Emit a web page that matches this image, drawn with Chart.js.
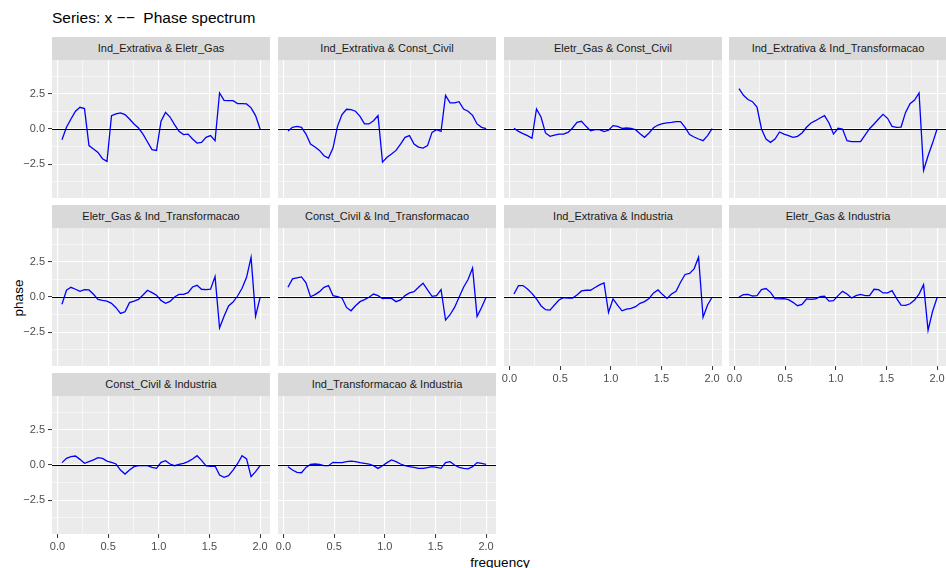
<!DOCTYPE html>
<html>
<head>
<meta charset="utf-8">
<style>
  body { margin: 0; width: 946px; height: 568px; overflow: hidden; background: #fff; position: relative;
         font-family: "Liberation Sans", Arial, sans-serif; }
  .strip { position: absolute; background: #D9D9D9; color: #1A1A1A; font-size: 11px;
           text-align: center; line-height: 23px; height: 23px; white-space: nowrap; }
  canvas { position: absolute; }
  #title { position: absolute; left: 52px; top: 9px; font-size: 15.5px; color: #000; white-space: pre; }
  #ylab { position: absolute; left: 18px; top: 298px; font-size: 13.5px; color: #000;
          transform: translate(-50%, -50%) rotate(-90deg); }
  #xlab { position: absolute; left: 500px; top: 555px; font-size: 13.5px; color: #000;
          transform: translateX(-50%); }
</style>
</head>
<body>
<div id="title">Series: x &#8722;&#8722;  Phase spectrum</div>
<div id="ylab">phase</div>
<div id="xlab">frequency</div>
<script src="https://cdn.jsdelivr.net/npm/chart.js"></script>
<script>
// frequency grid of the spectrum (45 ordinates, quarterly series)
const frequency = [0.0444, 0.0889, 0.1333, 0.1778, 0.2222, 0.2667, 0.3111, 0.3556, 0.4, 0.4444,
  0.4889, 0.5333, 0.5778, 0.6222, 0.6667, 0.7111, 0.7556, 0.8, 0.8444, 0.8889,
  0.9333, 0.9778, 1.0222, 1.0667, 1.1111, 1.1556, 1.2, 1.2444, 1.2889, 1.3333,
  1.3778, 1.4222, 1.4667, 1.5111, 1.5556, 1.6, 1.6444, 1.6889, 1.7333, 1.7778,
  1.8222, 1.8667, 1.9111, 1.9556, 2.0];

const panelNames = [
  'Ind_Extrativa & Eletr_Gas', 'Ind_Extrativa & Const_Civil', 'Eletr_Gas & Const_Civil',
  'Ind_Extrativa & Ind_Transformacao', 'Eletr_Gas & Ind_Transformacao',
  'Const_Civil & Ind_Transformacao', 'Ind_Extrativa & Industria', 'Eletr_Gas & Industria',
  'Const_Civil & Industria', 'Ind_Transformacao & Industria'
];

const phaseExtEle = [-0.76, 0.12, 0.71, 1.26, 1.54, 1.45, -1.18, -1.42, -1.66, -2.11,
  -2.3, 0.95, 1.07, 1.14, 1.02, 0.71, 0.36, 0.07, -0.36, -0.92,
  -1.47, -1.52, 0.55, 1.18, 0.85, 0.31, -0.17, -0.4, -0.36, -0.71,
  -1.0, -0.95, -0.59, -0.47, -0.83, 2.56, 2.04, 2.01, 2.01, 1.8,
  1.8, 1.78, 1.5, 0.95, 0.0];
const phaseExtCon = [-0.14, 0.12, 0.19, 0.12, -0.36, -1.07, -1.28, -1.52, -1.9, -2.06,
  -1.35, 0.19, 1.02, 1.4, 1.37, 1.26, 0.9, 0.36, 0.36, 0.59,
  0.95, -2.35, -2.01, -1.78, -1.52, -1.07, -0.59, -0.47, -1.07, -1.28,
  -1.35, -1.18, -0.24, -0.05, -0.17, 2.39, 1.85, 1.85, 1.94, 1.42,
  1.26, 0.97, 0.36, 0.12, 0.02];
const phaseEleCon = [0.05, -0.17, -0.33, -0.47, -0.66, 1.42, 0.85, -0.28, -0.52, -0.43,
  -0.36, -0.36, -0.24, 0.07, 0.47, 0.55, 0.19, -0.12, -0.05, -0.05,
  -0.19, -0.09, 0.24, 0.19, 0.05, 0.07, 0.05, -0.05, -0.33, -0.59,
  -0.28, 0.09, 0.28, 0.38, 0.43, 0.47, 0.52, 0.52, 0.12, -0.4,
  -0.57, -0.71, -0.83, -0.47, 0.02];
const phaseExtTra = [2.87, 2.39, 2.09, 1.94, 1.56, 0.0, -0.71, -0.95, -0.71, -0.21,
  -0.36, -0.47, -0.59, -0.52, -0.28, 0.12, 0.43, 0.59, 0.78, 0.95,
  0.43, -0.36, 0.05, 0.0, -0.83, -0.9, -0.9, -0.9, -0.43, 0.02,
  0.36, 0.71, 1.04, 0.76, 0.19, 0.12, 0.14, 1.18, 1.8, 2.06,
  2.56, -2.94, -1.9, -1.0, 0.0];
const phaseEleTra = [-0.52, 0.48, 0.69, 0.55, 0.4, 0.52, 0.5, 0.19, -0.17, -0.24,
  -0.29, -0.45, -0.76, -1.17, -1.05, -0.4, -0.29, -0.17, 0.14, 0.48,
  0.31, 0.12, -0.24, -0.45, -0.31, 0.0, 0.19, 0.19, 0.31, 0.71,
  0.83, 0.55, 0.52, 0.55, 1.45, -2.19, -1.36, -0.64, -0.36, 0.07,
  0.62, 1.4, 2.81, -1.36, -0.05];
const phaseConTra = [0.69, 1.29, 1.36, 1.43, 1.0, 0.02, 0.17, 0.38, 0.69, 0.81,
  0.1, 0.02, -0.07, -0.74, -0.98, -0.62, -0.33, -0.19, -0.02, 0.21,
  0.1, -0.12, -0.07, -0.1, -0.33, -0.21, 0.1, 0.29, 0.38, 0.69,
  0.98, 0.5, 0.05, 0.1, 0.52, -1.64, -1.26, -0.74, -0.02, 0.69,
  1.24, 2.05, -1.38, -0.74, -0.02];
const phaseExtInd = [0.21, 0.81, 0.81, 0.57, 0.26, -0.14, -0.62, -0.9, -0.93, -0.57,
  -0.21, -0.05, -0.07, -0.07, 0.14, 0.43, 0.48, 0.48, 0.67, 0.86,
  1.0, -1.1, -0.14, -0.57, -0.98, -0.86, -0.81, -0.69, -0.45, -0.33,
  -0.1, 0.29, 0.5, 0.17, -0.1, 0.21, 0.4, 1.05, 1.6, 1.67,
  2.0, 2.83, -1.43, -0.57, -0.02];
const phaseEleInd = [0.0, 0.17, 0.19, 0.07, 0.1, 0.52, 0.6, 0.33, -0.12, -0.14,
  -0.12, -0.19, -0.38, -0.62, -0.52, -0.14, -0.17, -0.14, 0.02, 0.05,
  -0.29, -0.26, 0.1, 0.4, 0.21, -0.07, 0.1, 0.19, 0.1, 0.1,
  0.55, 0.52, 0.29, 0.29, 0.45, -0.1, -0.57, -0.6, -0.48, -0.21,
  0.21, 0.88, -2.36, -1.02, -0.05];
const phaseConInd = [0.17, 0.47, 0.59, 0.64, 0.4, 0.12, 0.24, 0.36, 0.52, 0.47,
  0.28, 0.19, 0.07, -0.36, -0.64, -0.36, -0.12, -0.05, -0.05, -0.05,
  -0.17, -0.24, 0.19, 0.31, 0.07, -0.05, 0.05, 0.12, 0.24, 0.43,
  0.66, 0.33, -0.07, -0.09, -0.07, -0.71, -0.88, -0.76, -0.36, 0.09,
  0.66, 0.43, -0.83, -0.47, -0.05];
const phaseTraInd = [-0.12, -0.36, -0.52, -0.55, -0.17, 0.05, 0.07, 0.05, -0.05, -0.05,
  0.19, 0.17, 0.17, 0.24, 0.28, 0.24, 0.17, 0.12, 0.07, -0.05,
  -0.24, -0.05, 0.17, 0.36, 0.24, 0.07, -0.05, -0.12, -0.17, -0.24,
  -0.24, -0.19, -0.12, -0.17, -0.24, 0.17, 0.24, 0.0, -0.17, -0.24,
  -0.28, -0.12, 0.17, 0.12, 0.05];

const panelSeries = [phaseExtEle, phaseExtCon, phaseEleCon, phaseExtTra, phaseEleTra,
  phaseConTra, phaseExtInd, phaseEleInd, phaseConInd, phaseTraInd];

const xTicks = [0, 0.25, 0.5, 0.75, 1, 1.25, 1.5, 1.75, 2];
const yTicks = [-3.75, -2.5, -1.25, 0, 1.25, 2.5, 3.75];
const xMajor = [0, 0.5, 1, 1.5, 2];
const yMajor = [-2.5, 0, 2.5];

// facet layout (whole pixels so the canvases are not rescaled)
const colLeft = [52, 278, 504, 729];
const stripTop = [37, 205, 373];
const panelW = 218, stripH = 23, panelH = 138;
const yAxisW = 52, xAxisH = 22, M = 14;
const bottomPanels = [6, 7, 8, 9];

function fmt(v) {
  const s = Math.abs(v).toFixed(1);
  return v < 0 ? '\u2212' + s : s;
}
const isMaj = (list, v) => list.some(m => Math.abs(m - v) < 1e-9);

const panelBg = {
  id: 'panelBg',
  beforeDraw(chart) {
    const a = chart.chartArea, c = chart.ctx;
    c.save();
    c.fillStyle = '#EBEBEB';
    c.fillRect(a.left, a.top, a.right - a.left, a.bottom - a.top);
    c.restore();
  }
};
const zeroLine = {
  id: 'zeroLine',
  afterDatasetsDraw(chart) {
    const a = chart.chartArea, c = chart.ctx;
    const y = Math.round(chart.scales.y.getPixelForValue(0) - 0.5) + 0.5;
    c.save();
    c.strokeStyle = '#000';
    c.lineWidth = 1.2;
    c.beginPath();
    c.moveTo(a.left, y);
    c.lineTo(a.right, y);
    c.stroke();
    c.restore();
  }
};

panelNames.forEach((name, i) => {
  const row = Math.floor(i / 4), col = i % 4;
  const hasY = col === 0;
  const hasX = bottomPanels.includes(i);
  const pLeft = colLeft[col], sTop = stripTop[row], pTop = sTop + stripH;

  const strip = document.createElement('div');
  strip.className = 'strip';
  strip.style.left = pLeft + 'px';
  strip.style.top = sTop + 'px';
  strip.style.width = panelW + 'px';
  strip.textContent = name;
  document.body.appendChild(strip);

  const yw = hasY ? yAxisW : 0, xh = hasX ? xAxisH : 0;
  const wrap = document.createElement('div');
  wrap.style.position = 'absolute';
  wrap.style.left = (pLeft - yw - M) + 'px';
  wrap.style.top = (pTop - M) + 'px';
  wrap.style.width = (panelW + yw + 2 * M) + 'px';
  wrap.style.height = (panelH + xh + 2 * M) + 'px';
  const cv = document.createElement('canvas');
  wrap.appendChild(cv);
  document.body.appendChild(wrap);

  new Chart(cv, {
    type: 'line',
    data: {
      labels: frequency,
      datasets: [{
        data: panelSeries[i].map((v, k) => ({ x: frequency[k], y: v })),
        borderColor: '#0000FF',
        borderWidth: 1.3,
        pointRadius: 0,
        tension: 0,
        fill: false
      }]
    },
    options: {
      responsive: true,
      maintainAspectRatio: false,
      animation: false,
      events: [],
      layout: { padding: M },
      plugins: { legend: { display: false }, tooltip: { enabled: false }, title: { display: false } },
      scales: {
        x: {
          type: 'linear',
          min: -0.054,
          max: 2.098,
          afterBuildTicks: s => { s.ticks = xTicks.map(v => ({ value: v })); },
          afterFit: s => { s.height = xh; s.paddingLeft = 0; s.paddingRight = 0; },
          border: { display: false },
          grid: {
            color: '#FFFFFF',
            lineWidth: c => isMaj(xMajor, c.tick.value) ? 1.1 : 0.55,
            drawTicks: hasX,
            tickLength: 4,
            tickWidth: 1,
            tickColor: c => isMaj(xMajor, c.tick.value) ? '#333333' : 'rgba(0,0,0,0)'
          },
          ticks: {
            display: hasX,
            autoSkip: false,
            maxRotation: 0,
            padding: 2,
            color: '#4D4D4D',
            font: { family: '"Liberation Sans", Arial, sans-serif', size: 11 },
            callback: v => isMaj(xMajor, v) ? fmt(v) : ''
          }
        },
        y: {
          type: 'linear',
          min: -4.9,
          max: 4.9,
          afterBuildTicks: s => { s.ticks = yTicks.map(v => ({ value: v })); },
          afterFit: s => { s.width = yw; s.paddingTop = 0; s.paddingBottom = 0; },
          border: { display: false },
          grid: {
            color: '#FFFFFF',
            lineWidth: c => isMaj(yMajor, c.tick.value) ? 1.1 : 0.55,
            drawTicks: hasY,
            tickLength: 4,
            tickWidth: 1,
            tickColor: c => isMaj(yMajor, c.tick.value) ? '#333333' : 'rgba(0,0,0,0)'
          },
          ticks: {
            display: hasY,
            autoSkip: false,
            padding: 3,
            color: '#4D4D4D',
            font: { family: '"Liberation Sans", Arial, sans-serif', size: 11 },
            callback: v => isMaj(yMajor, v) ? fmt(v) : ''
          }
        }
      }
    },
    plugins: [panelBg, zeroLine]
  });
});
</script>
</body>
</html>
